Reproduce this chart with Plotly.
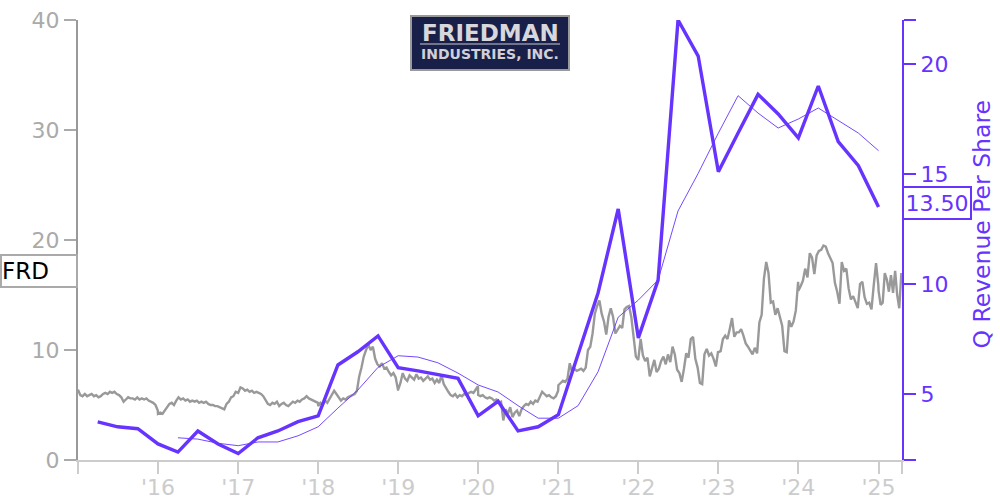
import pandas as pd
import plotly.graph_objects as go

TICKER = "FRD"
LAST_REV = "13.50"
RIGHT_TITLE = "Q Revenue Per Share"

price_2015 = [6.4,5.9,5.8,6.0,5.8,5.9,6.0,5.8,5.9,5.7,5.8,6.0,6.1,6.0,6.2,6.1,6.2,6.0,5.9,5.7,5.3,5.5,5.7,5.6,5.6,5.5,5.7,5.5,5.6,5.5,5.6,5.4,5.3,5.2,5.0,4.5]
price_2016 = [4.2,4.3,4.2,4.5,4.9,5.1,5.2,5.0,5.4,5.7,5.5,5.6,5.4,5.5,5.3,5.4,5.3,5.4,5.2,5.3,5.2,5.3,5.1,5.0,5.0,4.9,4.9,4.8,4.7,4.6,5.1,5.3,5.7,5.8,6.2,6.1]
price_2017 = [6.1,6.6,6.5,6.3,6.4,6.2,6.3,6.1,6.2,6.1,6.0,5.8,5.4,5.1,5.0,5.2,5.1,5.3,4.9,5.1,5.2,5.0,4.9,5.1,5.3,5.2,5.4,5.3,5.5,5.6,5.8,5.6,5.5,5.4,5.3,5.2]
price_2018 = [4.9,5.2,5.0,5.4,5.2,5.6,5.9,6.3,6.0,5.7,5.4,5.6,5.5,5.7,5.8,5.9,6.0,6.3,7.6,8.4,9.4,10.0,10.5,10.0,10.3,9.2,8.7,8.5,8.8,8.3,8.4,8.0,7.7,7.9,7.5,6.4]
price_2019 = [6.4,7.0,7.9,7.4,7.2,7.7,7.5,7.3,7.8,7.4,7.5,7.2,7.4,7.6,7.3,7.4,7.0,7.3,7.0,7.7,6.9,6.5,6.2,5.9,5.8,6.0,5.7,5.9,5.8,6.0,5.9,6.1,6.2,6.1,6.4,6.7]
price_2020 = [5.9,5.8,5.9,5.7,5.6,5.7,5.6,5.4,5.5,5.2,5.3,3.6,4.6,4.2,4.8,3.9,4.3,4.5,4.0,4.6,4.9,5.1,5.0,5.3,5.1,5.4,5.3,5.7,6.2,6.0,5.8,5.9,5.7,5.6,5.8,6.3]
price_2021 = [6.8,7.0,7.2,7.1,7.4,8.8,8.0,8.3,8.1,8.2,8.3,8.1,8.4,10.0,10.3,11.5,13.3,14.0,14.5,13.3,12.6,11.4,13.0,13.8,13.0,11.5,11.9,12.2,12.0,13.7,13.9,14.0,13.0,11.2,9.4,9.1]
price_2022 = [9.2,11.0,9.5,9.0,9.3,7.6,8.3,9.1,8.0,8.3,9.0,9.4,8.7,9.6,8.9,10.3,9.6,8.2,7.9,7.1,8.3,9.7,9.3,11.0,11.2,9.2,8.4,7.0,6.9,9.6,10.1,9.5,9.7,9.2,8.5,9.9]
price_2023 = [9.8,9.9,11.0,11.3,11.0,11.9,12.9,11.2,11.6,11.6,11.9,11.3,10.6,10.3,10.0,9.6,10.2,9.7,12.5,13.2,16.5,18.0,17.0,14.3,14.4,13.2,13.8,12.9,12.2,9.9,9.8,12.7,12.1,12.6,13.6,16.2]
price_2024 = [15.4,15.8,16.3,17.4,16.6,18.8,18.4,16.9,18.6,19.0,19.1,19.5,19.4,18.8,18.4,17.9,16.1,15.3,14.2,18.0,17.2,17.4,15.6,14.6,14.9,14.3,13.8,16.0,16.2,14.8,14.2,14.3,13.7,15.9,17.9,15.9]
price_2025 = [15.4,14.1,14.3,17.0,16.4,15.3,16.8,15.2,17.2,15.0,13.8,17.0]

quarterly_rev = [3.73,3.51,3.42,2.73,2.36,3.32,2.73,2.29,3.01,3.32,3.74,4.01,6.32,6.92,7.64,6.2,6.05,5.88,5.71,4.01,4.67,3.32,3.51,4.06,6.86,9.59,13.41,7.55,10.18,22.0,20.36,15.1,16.86,18.62,17.73,16.64,19.0,16.47,15.38,13.5]
average_rev = [3.01,2.95,2.76,2.65,2.82,2.82,3.10,3.51,4.36,5.18,6.21,6.74,6.68,6.42,5.95,5.41,5.09,4.47,3.9,3.9,4.47,6.01,8.49,9.27,10.18,13.32,15.03,16.86,18.56,17.77,17.09,17.5,18.0,17.42,16.86,16.06]

year_tick_dates = ["2015-01-01","2016-01-01","2017-01-01","2018-01-01","2019-01-01","2020-01-01","2021-01-01","2022-01-01","2023-01-01","2024-01-01","2025-01-01","2025-04-18"]
year_tick_labels = ["","'16","'17","'18","'19","'20","'21","'22","'23","'24","'25",""]

PURPLE = "#6633ff"
FONT = "DejaVu Sans"

price_x, price_y = [], []
yearly = {2015: price_2015, 2016: price_2016, 2017: price_2017, 2018: price_2018, 2019: price_2019,
          2020: price_2020, 2021: price_2021, 2022: price_2022, 2023: price_2023, 2024: price_2024}
for yr, vals in yearly.items():
    price_x += list(pd.date_range(f"{yr}-01-01", f"{yr}-12-31", periods=len(vals)))
    price_y += vals
price_x += list(pd.date_range("2025-01-01", "2025-04-15", periods=len(price_2025)))
price_y += price_2025

q_dates = pd.date_range("2015-04-01", "2025-01-01", freq="QS")

fig = go.Figure()
fig.add_trace(go.Scatter(x=price_x, y=price_y, mode="lines", line=dict(color="#999999", width=2.4), showlegend=False))
fig.add_trace(go.Scatter(x=q_dates[-len(average_rev):], y=average_rev, yaxis="y2", mode="lines", line=dict(color=PURPLE, width=0.9), showlegend=False))
fig.add_trace(go.Scatter(x=q_dates, y=quarterly_rev, yaxis="y2", mode="lines", line=dict(color=PURPLE, width=3.4), showlegend=False))

fig.update_layout(
    width=1000, height=500, margin=dict(l=78, r=98, t=20, b=40, autoexpand=False),
    paper_bgcolor="white", plot_bgcolor="white", font=dict(family=FONT, size=22),
    xaxis=dict(range=["2015-01-01", "2025-04-18"], type="date", tickmode="array",
               tickvals=year_tick_dates, ticktext=year_tick_labels, ticks="outside", ticklen=12, tickwidth=2,
               tickcolor="#cccccc", showline=True, linecolor="#cccccc", linewidth=2, showgrid=False, zeroline=False,
               tickfont=dict(color="#cccccc", size=22, family=FONT), automargin=False, ticklabelstandoff=-5),
    yaxis=dict(range=[0, 40], tickmode="array", tickvals=[0, 10, 20, 30, 40], ticks="outside", ticklen=12, tickwidth=2,
               tickcolor="#aaaaaa", showline=True, linecolor="#999999", linewidth=2, showgrid=False, zeroline=False,
               tickfont=dict(color="#aaaaaa", size=22, family=FONT), automargin=False),
    yaxis2=dict(range=[2, 22], overlaying="y", side="right", tickmode="array", tickvals=[2, 5, 10, 15, 20, 22],
                ticktext=["", "5", "10", "15", "20", ""], ticks="outside", ticklen=12, tickwidth=2, tickcolor=PURPLE,
                showline=True, linecolor=PURPLE, linewidth=2, showgrid=False, zeroline=False,
                tickfont=dict(color=PURPLE, size=22, family=FONT), automargin=False),
    shapes=[
        dict(type="rect", xref="paper", yref="paper", x0=(411-78)/824, x1=(569-78)/824, y0=(460-70)/440, y1=(460-16)/440,
             fillcolor="#18204a", line=dict(color="#9a9a9a", width=2), layer="above"),
        dict(type="line", xref="paper", yref="paper", x0=(420-78)/824, x1=(560-78)/824, y0=(460-44)/440, y1=(460-44)/440,
             line=dict(color="#c8c8d0", width=1), layer="above"),
    ],
    annotations=[
        dict(text="<b>FRIEDMAN</b>", xref="paper", yref="paper", x=(490-78)/824, y=(460-33)/440, showarrow=False, xanchor="center", yanchor="middle",
             font=dict(color="#d8d8dc", size=23, family=FONT)),
        dict(text="<b>INDUSTRIES, INC.</b>", xref="paper", yref="paper", x=(490-78)/824, y=(460-54)/440, showarrow=False, xanchor="center", yanchor="middle",
             font=dict(color="#d0d0d6", size=14, family=FONT)),
        dict(text=TICKER, xref="paper", yref="paper", x=(0-78)/824, y=(460-271)/440, xanchor="left", yanchor="middle", showarrow=False, align="left",
             width=74, height=30, bgcolor="white", bordercolor="#aaaaaa", borderwidth=2, borderpad=0,
             font=dict(color="black", size=23, family=FONT)),
        dict(text=LAST_REV, xref="paper", yref="paper", x=(902-78)/824, y=(460-203)/440, xanchor="left", yanchor="middle", showarrow=False, align="center",
             width=66, height=30, bgcolor="white", bordercolor=PURPLE, borderwidth=2, borderpad=0,
             font=dict(color=PURPLE, size=22, family=FONT)),
        dict(text=RIGHT_TITLE, xref="paper", yref="paper", x=(982-78)/824, y=(460-224.5)/440, xanchor="center", yanchor="middle", showarrow=False,
             textangle=-90, font=dict(color=PURPLE, size=23.5, family=FONT)),
    ],
)
fig.write_html("out.html", post_script="document.body.style.margin='0';", config={"displayModeBar": False})
